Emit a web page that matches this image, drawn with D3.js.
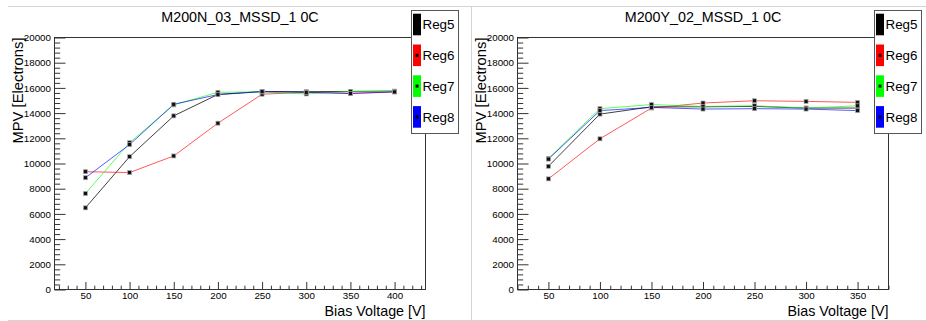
<!DOCTYPE html>
<html>
<head>
<meta charset="utf-8">
<script src="https://cdn.jsdelivr.net/npm/d3@7"></script>
<style>
  html, body { margin: 0; padding: 0; background: #fff; }
  svg { display: block; }
  text { font-family: "Liberation Sans", Arial, Helvetica, sans-serif; fill: #000; }
</style>
</head>
<body>
<svg id="chart" width="926" height="321"></svg>
<script>
// ---------- data ----------
const seriesNames = ["Reg5", "Reg6", "Reg7", "Reg8"];
const seriesColors = ["#000000", "#ff0000", "#00ff00", "#0000ff"];

const titleN = "M200N_03_MSSD_1 0C";
const voltagesN = [50, 100, 150, 200, 250, 300, 350, 400];
const reg5N = [6480, 10540, 13780, 15480, 15720, 15700, 15720, 15750];
const reg6N = [9350, 9280, 10600, 13200, 15500, 15650, 15580, 15680];
const reg7N = [7620, 11650, 14650, 15650, 15680, 15520, 15720, 15720];
const reg8N = [8870, 11500, 14700, 15470, 15700, 15650, 15550, 15680];

const titleY = "M200Y_02_MSSD_1 0C";
const voltagesY = [50, 100, 150, 200, 250, 300, 350];
const reg5Y = [9780, 13920, 14500, 14500, 14530, 14400, 14400];
const reg6Y = [8780, 11960, 14400, 14800, 14980, 14930, 14850];
const reg7Y = [10400, 14350, 14680, 14530, 14580, 14400, 14580];
const reg8Y = [10350, 14200, 14450, 14320, 14350, 14320, 14200];

const yTickValues = [0, 2000, 4000, 6000, 8000, 10000, 12000, 14000, 16000, 18000, 20000];
const xTickValuesN = [50, 100, 150, 200, 250, 300, 350, 400];
const xTickValuesY = [50, 100, 150, 200, 250, 300, 350];
const xLabel = "Bias Voltage [V]";
const yLabel = "MPV [Electrons]";

// ---------- drawing ----------
const svg = d3.select("#chart");

// pad borders
const border = svg.append("g").attr("stroke", "#d4d4d4").attr("stroke-width", 1);
border.append("line").attr("x1", 8).attr("x2", 926).attr("y1", 6.5).attr("y2", 6.5);
border.append("line").attr("x1", 8).attr("x2", 926).attr("y1", 320.5).attr("y2", 320.5);
border.append("line").attr("x1", 471.5).attr("x2", 471.5).attr("y1", 6.5).attr("y2", 321);

function drawPanel(cfg) {
  const g = svg.append("g");
  const x = d3.scaleLinear().domain(cfg.xDomain).range([cfg.left, cfg.right]);
  const y = d3.scaleLinear().domain([0, 20000]).range([cfg.bottom, cfg.top]);

  // frame
  g.append("rect")
    .attr("x", cfg.left).attr("y", cfg.top)
    .attr("width", cfg.right - cfg.left).attr("height", cfg.bottom - cfg.top)
    .attr("fill", "none").attr("stroke", "#333").attr("stroke-width", 1);

  // y minor ticks
  const yMinor = d3.range(0, 20001, 400).filter(v => v % 2000 !== 0);
  g.append("g").attr("transform", `translate(${cfg.left},0)`)
    .call(d3.axisLeft(y).tickValues(yMinor).tickSize(-5.7).tickFormat(""))
    .call(s => s.select(".domain").remove())
    .selectAll("line").attr("stroke", "#333");
  // y major ticks
  const yAx = g.append("g").attr("transform", `translate(${cfg.left},0)`)
    .call(d3.axisLeft(y).tickValues(yTickValues).tickSize(-11).tickPadding(3.5).tickFormat(d3.format("d")));
  yAx.select(".domain").remove();
  yAx.selectAll("line").attr("stroke", "#333");
  yAx.selectAll("text").attr("font-size", "9.8px").attr("font-family", "Liberation Sans, Arial, sans-serif").attr("fill", "#000");

  // x minor ticks
  const xMinor = d3.range(Math.ceil(cfg.xDomain[0] / 10) * 10, cfg.xDomain[1] + 0.001, 10).filter(v => v % 50 !== 0);
  g.append("g").attr("transform", `translate(0,${cfg.bottom})`)
    .call(d3.axisBottom(x).tickValues(xMinor).tickSize(-3.8).tickFormat(""))
    .call(s => s.select(".domain").remove())
    .selectAll("line").attr("stroke", "#333");
  const xAx = g.append("g").attr("transform", `translate(0,${cfg.bottom})`)
    .call(d3.axisBottom(x).tickValues(cfg.xTicks).tickSize(-7.5).tickPadding(3).tickFormat(d3.format("d")));
  xAx.select(".domain").remove();
  xAx.selectAll("line").attr("stroke", "#333");
  xAx.selectAll("text").attr("font-size", "9.8px").attr("font-family", "Liberation Sans, Arial, sans-serif").attr("fill", "#000");

  // series
  const line = d3.line().x(d => x(d[0])).y(d => y(d[1]));
  cfg.series.forEach((vals, i) => {
    const pts = cfg.voltages.map((v, j) => [v, vals[j]]);
    g.append("path").datum(pts)
      .attr("d", line).attr("fill", "none")
      .attr("stroke", seriesColors[i]).attr("stroke-width", 1)
      .attr("stroke-opacity", i === 0 ? 0.75 : 0.65);
  });
  cfg.series.forEach((vals, i) => {
    const pts = cfg.voltages.map((v, j) => [v, vals[j]]);
    g.selectAll(null).data(pts).enter().append("rect")
      .attr("x", d => x(d[0]) - 2).attr("y", d => y(d[1]) - 2)
      .attr("width", 4).attr("height", 4)
      .attr("fill", "#111").attr("stroke", "#aaa").attr("stroke-width", 0.7);
  });

  // title
  g.append("text").attr("x", cfg.titleX).attr("y", 22)
    .attr("text-anchor", "middle").attr("font-size", "14.3px").text(cfg.title);

  // axis titles
  g.append("text").attr("x", cfg.right).attr("y", 316)
    .attr("text-anchor", "end").attr("font-size", "14.3px").text(xLabel);
  g.append("text")
    .attr("transform", `translate(${cfg.left - 32},${cfg.top}) rotate(-90)`)
    .attr("text-anchor", "end").attr("font-size", "14.8px").text(yLabel);

  // legend
  const lg = g.append("g");
  lg.append("rect").attr("x", cfg.legX + 0.5).attr("y", 10.5)
    .attr("width", 47).attr("height", 123)
    .attr("fill", "#fff").attr("stroke", "#555").attr("stroke-width", 1);
  seriesNames.forEach((name, i) => {
    const cy = 24.5 + i * 30.8;
    lg.append("rect").attr("x", cfg.legX + 2).attr("y", cy - 10.8)
      .attr("width", 8).attr("height", 21.6).attr("fill", seriesColors[i]);
    lg.append("rect").attr("x", cfg.legX + 4.5).attr("y", cy - 1.5)
      .attr("width", 3).attr("height", 3).attr("fill", "#000");
    lg.append("text").attr("x", cfg.legX + 11.5).attr("y", cy + 4.8)
      .attr("font-size", "13.4px").text(name);
  });
}

drawPanel({
  left: 54.5, right: 425.5, top: 37.5, bottom: 289.5,
  xDomain: [15, 435], xTicks: xTickValuesN, voltages: voltagesN,
  series: [reg5N, reg6N, reg7N, reg8N], title: titleN, titleX: 240, legX: 411
});
drawPanel({
  left: 517.5, right: 888.5, top: 37.5, bottom: 289.5,
  xDomain: [20, 380], xTicks: xTickValuesY, voltages: voltagesY,
  series: [reg5Y, reg6Y, reg7Y, reg8Y], title: titleY, titleX: 703, legX: 874
});
</script>
</body>
</html>
